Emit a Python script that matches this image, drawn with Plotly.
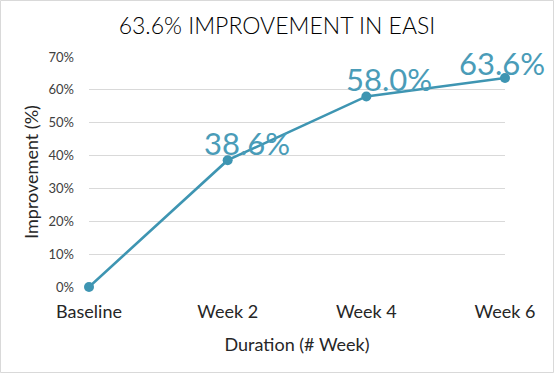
import plotly.graph_objects as go

categories = ["Baseline", "Week 2", "Week 4", "Week 6"]
improvement = [0.0, 38.6, 58.0, 63.6]
labels = ["", "38.6%", "58.0%", "63.6%"]
y_ticks = [0, 10, 20, 30, 40, 50, 60, 70]
y_ticktext = ["0%", "10%", "20%", "30%", "40%", "50%", "60%", "70%"]

LINE = "#3E95B2"
W, H = 554, 373
ML, MR, MT, MB = 89, 49, 57, 86

fig = go.Figure()
fig.add_trace(go.Scatter(
    x=categories, y=improvement, mode="lines+markers",
    line=dict(color=LINE, width=2.6),
    marker=dict(color=LINE, size=10),
    cliponaxis=False,
    hoverinfo="skip", showlegend=False,
))

shifts = [(0, 0), (19, 17), (23, 17), (-3, 15)]
for c, v, t, (dx, dy) in zip(categories, improvement, labels, shifts):
    if not t:
        continue
    fig.add_annotation(x=c, y=v, text=t, showarrow=False,
                       xshift=dx, yshift=dy,
                       font=dict(family="Lato", size=31, color="#4A9CB8"))

pw = W - ML - MR
ph = H - MT - MB
fig.add_shape(type="rect", xref="paper", yref="paper",
              x0=-(ML - 0.5) / pw, x1=1 + (MR - 0.5) / pw,
              y0=-(MB - 0.5) / ph, y1=1 + (MT - 0.5) / ph,
              line=dict(color="#D9D9D9", width=1), layer="below")

fig.update_layout(
    width=W, height=H,
    margin=dict(l=ML, r=MR, t=MT, b=MB, pad=0),
    paper_bgcolor="white", plot_bgcolor="white",
    title=dict(text="63.6% IMPROVEMENT IN EASI", x=0.5, xref="container", xanchor="center",
               y=1 - 26 / H, yanchor="middle",
               font=dict(family="Lato", size=23, weight=300, color="#000000")),
    xaxis=dict(type="category", range=[0, 3], showgrid=False, zeroline=False,
               showline=False, ticks="", ticklabelstandoff=12,
               tickfont=dict(family="Lato", size=18, color="#262626"),
               title=dict(text="Duration (# Week)", standoff=17,
                          font=dict(family="Lato", size=18, color="#262626"))),
    yaxis=dict(range=[0, 70], tickvals=y_ticks, ticktext=y_ticktext,
               showgrid=True, gridcolor="#D9D9D9", gridwidth=1,
               zeroline=False, showline=False, ticks="",
               ticklabelstandoff=14,
               tickfont=dict(family="Lato", size=13, color="#404040"),
               title=dict(text="Improvement (%)", standoff=5,
                          font=dict(family="Lato", size=18, color="#262626"))),
    font=dict(family="Lato"),
)

fig.write_html("out.html", config={"displayModeBar": False},
               post_script="document.body.style.margin='0px';")
